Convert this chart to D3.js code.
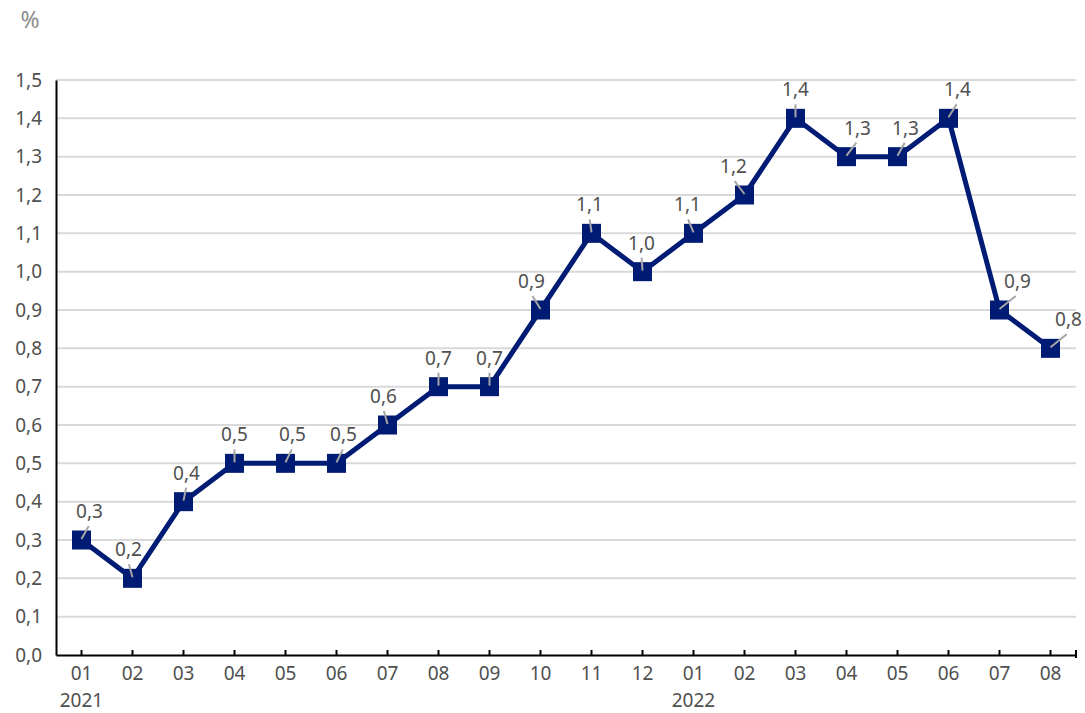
<!DOCTYPE html>
<html>
<head>
<meta charset="utf-8">
<script src="https://cdn.jsdelivr.net/npm/d3@7"></script>
<style>
  body { margin: 0; background: #fff; }
  text { font-family: "Noto Sans", "Open Sans", sans-serif; }
</style>
</head>
<body>
<div id="chart"></div>
<script>
// months shown on the x axis (2021-01 .. 2022-08)
const months = ["01","02","03","04","05","06","07","08","09","10","11","12",
                "01","02","03","04","05","06","07","08"];
const years = ["2021","","","","","","","","","","","","2022","","","","","","",""];
const values = [0.3,0.2,0.4,0.5,0.5,0.5,0.6,0.7,0.7,0.9,1.1,1.0,1.1,1.2,1.4,1.3,1.3,1.4,0.9,0.8];
const yTicks = [0,0.1,0.2,0.3,0.4,0.5,0.6,0.7,0.8,0.9,1.0,1.1,1.2,1.3,1.4,1.5];

// horizontal nudge for each data label (layout only)
const labelShift = [8,-4,3,0,7,7,-4,0,0,-9,-2,-1,-6,-11,0,11,8,9,18,18];

const width = 1085, height = 713;
const margin = { top: 80, right: 9, bottom: 58, left: 56 };
const fmt = v => d3.format(".1f")(v).replace(".", ",");
const fs = 19;
const textColor = "#505050";

const svg = d3.select("#chart").append("svg")
	.attr("width", width)
	.attr("height", height);

const x = d3.scaleBand()
	.domain(d3.range(values.length))
	.range([margin.left, width - margin.right]);

const y = d3.scaleLinear()
	.domain([0, 1.5])
	.range([height - margin.bottom, margin.top]);

const cx = i => x(i) + x.bandwidth() / 2;

// unit label
svg.append("text")
	.attr("x", 30).attr("y", 28)
	.attr("text-anchor", "middle")
	.style("font-size", "23px")
	.attr("fill", "#8c8c8c")
	.text("%");

// gridlines
svg.append("g")
	.selectAll("line")
	.data(yTicks.slice(1))
	.join("line")
	.attr("x1", margin.left).attr("x2", width - margin.right)
	.attr("y1", d => y(d)).attr("y2", d => y(d))
	.attr("stroke", "#d9d9d9")
	.attr("stroke-width", 2);

// y axis
const yAxis = svg.append("g")
	.attr("transform", `translate(${margin.left},0)`)
	.call(d3.axisLeft(y).tickValues(yTicks).tickFormat(fmt).tickSize(0).tickPadding(14));
yAxis.select(".domain").attr("stroke", "#000").attr("stroke-width", 2);
yAxis.selectAll("text").style("font-size", fs + "px").attr("fill", textColor)
	.style("font-family", "'Noto Sans', sans-serif");

// x axis
const xAxis = svg.append("g")
	.attr("transform", `translate(0,${height - margin.bottom})`)
	.call(d3.axisBottom(x).tickFormat(i => months[i]).tickSize(-5).tickSizeOuter(0).tickPadding(12));
xAxis.select(".domain").attr("stroke", "#000").attr("stroke-width", 2);
xAxis.selectAll(".tick line").attr("stroke", "#000").attr("stroke-width", 2);
xAxis.selectAll("text").style("font-size", fs + "px").attr("fill", textColor)
	.style("font-family", "'Noto Sans', sans-serif");
// closing tick at the right end
xAxis.append("line")
	.attr("x1", width - margin.right).attr("x2", width - margin.right)
	.attr("y1", -5).attr("y2", 3)
	.attr("stroke", "#000").attr("stroke-width", 2);

// year labels
svg.append("g")
	.selectAll("text")
	.data(years)
	.join("text")
	.attr("x", (d, i) => cx(i))
	.attr("y", height - 6)
	.attr("text-anchor", "middle")
	.style("font-size", fs + "px")
	.attr("fill", textColor)
	.text(d => d);

// line
const line = d3.line()
	.x((d, i) => cx(i))
	.y(d => y(d));

svg.append("path")
	.datum(values)
	.attr("d", line)
	.attr("fill", "none")
	.attr("stroke", "#001b74")
	.attr("stroke-width", 5)
	.attr("stroke-linejoin", "miter");

// markers
const ms = 19;
svg.append("g")
	.selectAll("rect")
	.data(values)
	.join("rect")
	.attr("x", (d, i) => cx(i) - ms / 2)
	.attr("y", d => y(d) - ms / 2)
	.attr("width", ms).attr("height", ms)
	.attr("fill", "#001b74");

// leader lines and data labels
const labels = svg.append("g");
labels.selectAll("line")
	.data(values)
	.join("line")
	.attr("x1", (d, i) => cx(i))
	.attr("y1", d => y(d) - 1)
	.attr("x2", (d, i) => cx(i) + labelShift[i] * 0.9)
	.attr("y2", d => y(d) - 14)
	.attr("stroke", "#a6a6a6")
	.attr("stroke-width", 2);

labels.selectAll("text")
	.data(values)
	.join("text")
	.attr("x", (d, i) => cx(i) + labelShift[i])
	.attr("y", d => y(d) - 22)
	.attr("text-anchor", "middle")
	.style("font-size", fs + "px")
	.attr("fill", textColor)
	.text(fmt);
</script>
</body>
</html>
